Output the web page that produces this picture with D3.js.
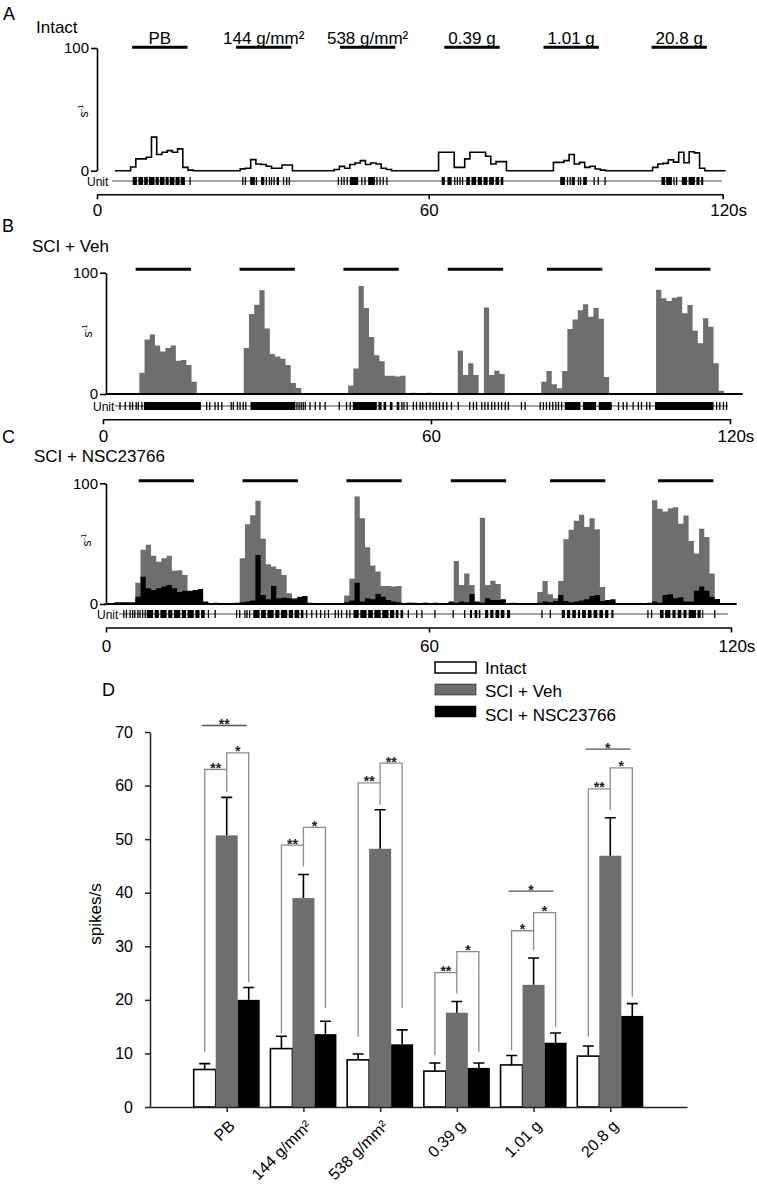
<!DOCTYPE html>
<html><head><meta charset="utf-8">
<script src="https://cdn.jsdelivr.net/npm/d3@7"></script>
<style>
body{margin:0;background:#fff;}
svg{display:block;font-family:"Liberation Sans",Arial,Helvetica,sans-serif;}
</style></head><body>
<svg id="chart" width="757" height="1199"></svg>
<script>
// ---------------- DATA ----------------
const stimLabels = ["PB","144 g/mm²","538 g/mm²","0.39 g","1.01 g","20.8 g"];
const stimOnsets = [5.3,25.2,45.1,65.1,84.1,104.8];   // s
const stimDuration = 10.6;                            // s
const timeTicks = [0,60,120];

// firing-rate histograms, 1-s bins: [first bin, values (s^-1)]
const intactHist = [
  [5,[3,9.6,9.6,11,27.4,13.2,15,16.4,15,17.8,2.7,0.5]],
  [26,[1.5,2,9,5.5,5,3.6,2,2,4.7,4.7]],
  [44,[1,3.5,2,5,6.3,8.2,5,6.3,5.5,2,1]],
  [64,[15,15,15,2.7,2.7,9.6,15,15,15,11.8,5.5,7.4,7.4]],
  [86,[6.8,6.8,8.2,13.2,5.5,6.8,2.7,3.6,1.4,0.5]],
  [105,[2.7,5.5,6,8.8,7,15,6.5,15.5,14.5,2]]
];
const vehHist = [
  [6,[17.6,45,49,40,35,38,40,27.5,28,24,10]],
  [26,[38,66,73.5,85.5,54,33,31,29,24,9,5]],
  [46,[7,21,89,71,47,32,27,15,15,14.5,15,0,1,0.5,0,1]],
  [65,[0.5,0,35.7,15.7,25.3,15.7,0,71.4,15.7,19.2,16.5]],
  [82,[0.5,10,19,8,4.7,19,53.6,61.5,69,74,63.7,71,62,14]],
  [105,[86,79,76.6,79.4,80.2,66.5,73.4,52.2,41.8,62.4,55.5,25.3,2.7]]
];
const nscHist = [
  [0,[0.5,0.5,1.4,1.4,1.4,1.4,6,22.6,13,11.6,13,14.4,15.7,13,10,11,11,11.6,12.4,2,0.5,1,0.5,0.5]],
  [24,[0.5,1,1.5,2,3,40.6,7.5,3.9,14.9,4.7,5.2,4.7,3.9,6,6.6,1,0.5,0.5,0.5,0.5]],
  [44,[0.5,0.5,1.4,2.8,17.7,2,4.7,4,8.3,6,3.3,2,1.4,0.5,1,1,0,1,0,1,0,0,2,1,2,1.4,8.3,2,1,4.7,3.3,3.3,3.9,0,1]],
  [82,[0.5,1,2,1.4,2.5,7.5,2.5,1.4,2,2.8,3.9,6.6,7.5,2.5,3.3,3.9]],
  [104,[1,2,1,7.5,8,4.7,5.5,2,2,11,14.4,11,6,4.1]]
];

// unit rasters (s): isolated spikes and dense bursts [start,end]
const intactSpikes = [16.4,26.5,27.0,29.1,31.0,31.6,32.0,32.5,33.1,33.3,34.3,34.9,35.4,44.8,45.4,45.9,46.5,49.3,49.9,52.2,52.8,53.4,54.1,67.1,67.6,68.1,68.6,88.7,89.2,90.8,91.2,93.8,94.6,95.9,109.1,109.6];
const intactBursts = [[5.4,6.2],[6.5,7.4],[7.6,8.3],[8.5,9.6],[9.8,10.4],[10.6,11.5],[11.7,12.3],[12.5,13.4],[13.6,14.4],[14.6,15.4],[27.9,28.8],[30.0,30.6],[47.0,48.6],[50.5,51.8],[64.6,65.2],[65.7,66.5],[69.3,70.0],[70.3,71.2],[71.5,72.3],[72.6,73.4],[73.7,74.6],[74.9,75.6],[75.9,76.4],[87.3,88.2],[89.5,90.1],[91.7,92.4],[106.7,107.4],[107.6,108.7],[110.6,111.6],[111.9,113.1],[113.4,114.0],[114.3,114.7]];
const vehSpikes = [2.3,3.3,4.2,4.7,5.4,5.8,6.5,18.9,19.5,20.5,21.1,21.8,23.6,24.0,24.8,25.3,25.9,26.4,36.2,36.6,37.0,37.4,37.8,38.7,39.7,40.6,41.6,44.3,45.7,46.4,56.3,56.7,57.3,58.5,59.1,59.8,60.3,61.0,61.7,62.3,62.9,63.5,64.2,64.9,65.8,67.1,69.3,70.0,70.6,71.6,72.2,72.8,73.5,74.1,74.8,75.4,76.1,76.7,79.2,79.9,82.8,83.4,84.0,84.6,85.2,85.8,86.3,86.9,97.8,98.7,99.4,100.6,101.6,102.2,103.2,103.8,116.6,117.2,117.9,118.5];
const vehBursts = [[6.9,17.8],[27.3,35.9],[46.9,51.5],[51.8,52.4],[52.8,53.3],[54.0,54.5],[55.3,55.8],[87.5,90.5],[91.0,93.5],[94.0,96.5],[104.8,116.0]];
const nscSpikes = [3.8,4.3,5.0,5.5,5.9,6.5,6.9,7.4,7.9,20.0,21.3,25.4,26.0,27.0,27.4,27.9,38.8,39.8,40.7,41.5,42.3,43.0,44.3,44.9,45.5,46.5,47.1,58.3,59.9,60.9,63.4,66.9,69.1,83.9,85.5,104.2,104.9,117.0];
const nscBursts = [[8.2,9.4],[9.7,10.5],[10.8,12.0],[12.3,13.1],[13.4,14.6],[14.9,15.7],[16.0,17.2],[17.5,18.3],[18.6,19.3],[28.6,29.8],[30.1,31.0],[31.3,32.5],[32.8,33.6],[33.9,35.1],[35.4,36.2],[36.5,37.4],[37.7,38.2],[47.8,48.8],[49.1,50.3],[50.6,51.5],[51.8,53.0],[53.3,54.5],[54.8,55.6],[55.9,56.4],[56.8,57.3],[70.1,70.5],[71.0,71.5],[71.8,72.1],[73.0,73.6],[74.0,74.6],[75.0,75.7],[76.0,76.7],[77.2,77.8],[87.7,88.3],[88.7,89.3],[89.7,90.4],[90.8,91.2],[91.6,92.3],[92.7,93.4],[93.8,94.5],[94.9,95.6],[96.0,96.6],[97.2,97.6],[106.5,107.2],[107.5,108.5],[108.9,109.5],[109.9,110.6],[111.0,111.6],[112.0,113.4],[113.7,114.3],[114.6,114.8]];

// panel D: mean ± SEM spikes/s
const doseLabels = ["PB","144 g/mm²","538 g/mm²","0.39 g","1.01 g","20.8 g"];
const groupNames = ["Intact","SCI + Veh","SCI + NSC23766"];
const intactMean = [7.0,10.9,8.8,6.7,7.85,9.5];
const intactSem  = [1.1,2.3,1.1,1.5,1.75,1.9];
const vehMean    = [50.7,39.0,48.2,17.6,22.8,46.9];
const vehSem     = [7.1,4.4,7.3,2.1,5.0,7.1];
const nscMean    = [20.0,13.6,11.7,7.3,12.0,17.0];
const nscSem     = [2.3,2.4,2.7,0.9,1.8,2.3];
const yTicksD    = [0,10,20,30,40,50,60,70];
// brackets: [dose, from group, to group, level, from-leg end, to-leg end, label]
const brackets = [
  [0,0,1,63,10.3,58.8,"**"],[0,1,2,66.1,63,23.3,"*"],
  [1,0,1,48.9,13.8,44.9,"**"],[1,1,2,52.2,48.9,18.5,"*"],
  [2,0,1,60.5,13.1,56.4,"**"],[2,1,2,64.2,60.5,18.5,"**"],
  [3,0,1,25.1,9.7,21.2,"**"],[3,1,2,29,25.1,10.3,"*"],
  [4,0,1,32.9,10.6,29.3,"*"],[4,1,2,36.3,32.9,15,"*"],
  [5,0,1,59.4,13.1,55.4,"**"],[5,1,2,63.3,59.4,20.6,"*"]
];
// overall comparison lines: [dose, level, label]
const spanLines = [[0,71.2,"**"],[4,40.3,"*"],[5,66.8,"*"]];

// ---------------- DRAW ----------------
const svg = d3.select("#chart");
const BIN_W = 5.22;
const GRAY = "#6e6e6e";

function toBins(groups){
  const arr = new Array(122).fill(0);
  groups.forEach(([s,vals]) => vals.forEach((v,k) => arr[s+k] = v));
  return arr;
}

const panels = [
  {id:"A", letterX:3, letterY:20, title:"Intact", titleX:36, titleY:33,
   axisX:97, y0:170.7, y100:48, histX0:104.5, stimX0:104.5, stimY:47.3,
   baseX0:115, baseX1:725, rasterY:181, unitX:87, lineX0:112, lineX1:722,
   timeY:194.3, timeRange:[97,428.7,722.7], timePad:5, sLab:[88,111],
   outline:intactHist, spikes:intactSpikes, bursts:intactBursts, labels:true},
  {id:"B", letterX:2, letterY:232, title:"SCI + Veh", titleX:32, titleY:252,
   axisX:106, y0:394, y100:272.7, histX0:108, stimX0:108, stimY:269.3,
   baseX0:106, baseX1:742.7, rasterY:406, unitX:93, lineX0:115, lineX1:728,
   timeY:419.3, timeRange:[103,431,730], timePad:6, sLab:[92,331],
   gray:vehHist, spikes:vehSpikes, bursts:vehBursts},
  {id:"C", letterX:2, letterY:443, title:"SCI + NSC23766", titleX:34, titleY:462,
   axisX:106, y0:604, y100:483.3, histX0:104, stimX0:111, stimY:480.7,
   baseX0:106, baseX1:736.7, rasterY:614, unitX:97, lineX0:119, lineX1:728,
   timeY:627.5, timePad:7, timeRange:[106,429,731], sLab:[91,540],
   gray:vehHist, black:nscHist, spikes:nscSpikes, bursts:nscBursts}
];

panels.forEach(p => {
  const g = svg.append("g");
  const hx = d3.scaleLinear().domain([0,120]).range([p.histX0, p.histX0 + 120*BIN_W]);
  const sx = d3.scaleLinear().domain([0,120]).range([p.stimX0, p.stimX0 + 120*BIN_W]);
  const hy = d3.scaleLinear().domain([0,100]).range([p.y0, p.y100]);
  const tx = d3.scaleLinear().domain(timeTicks).range(p.timeRange);

  g.append("text").attr("x",p.letterX).attr("y",p.letterY).attr("font-size",18).text(p.id);
  g.append("text").attr("x",p.titleX).attr("y",p.titleY).attr("font-size",17).text(p.title);

  // stimulus bars
  stimOnsets.forEach((t,i) => {
    g.append("line").attr("x1",sx(t)).attr("x2",sx(t+stimDuration))
      .attr("y1",p.stimY).attr("y2",p.stimY).attr("stroke","#000").attr("stroke-width",3);
    if (p.labels) {
      g.append("text").attr("x",(sx(t)+sx(t+stimDuration))/2).attr("y",p.stimY-3.5)
        .attr("text-anchor","middle").attr("font-size",17).text(stimLabels[i]);
    }
  });

  // histograms
  const areaGen = d3.area().curve(d3.curveStepAfter)
      .x(d => hx(d[0])).y0(hy(0)).y1(d => hy(d[1]));
  const groupPts = ([s,vals]) => vals.map((v,k) => [s+k,v]).concat([[s+vals.length,0]]);
  if (p.gray) p.gray.forEach(gr => g.append("path").attr("d",areaGen(groupPts(gr))).attr("fill",GRAY));
  if (p.black) p.black.forEach(gr => g.append("path").attr("d",areaGen(groupPts(gr))).attr("fill","#000"));
  if (p.outline) {
    const arr = toBins(p.outline);
    const pts = d3.range(2,120).map(i => [i, arr[i]]);
    g.append("path").attr("d", d3.line().curve(d3.curveStepAfter).x(d=>hx(d[0])).y(d=>hy(d[1]))(pts))
      .attr("fill","none").attr("stroke","#000").attr("stroke-width",1.6);
  } else {
    g.append("line").attr("x1",p.baseX0).attr("x2",p.baseX1).attr("y1",p.y0).attr("y2",p.y0)
      .attr("stroke","#000").attr("stroke-width",1.8);
  }

  // y axis
  const ya = g.append("g").attr("transform",`translate(${p.axisX},0)`)
    .call(d3.axisLeft(hy).tickValues([0,100]).tickSize(6).tickSizeOuter(0).tickPadding(2));
  ya.selectAll("path,line").attr("stroke","#000").attr("stroke-width",1.6);
  ya.selectAll("text").attr("font-size",15).attr("font-family",null).attr("fill","#000");
  const sl = g.append("text").attr("transform",`translate(${p.sLab[0]},${p.sLab[1]}) rotate(-90)`)
    .attr("text-anchor","middle").attr("font-size",12);
  sl.append("tspan").text("s");
  sl.append("tspan").attr("dy",-5).attr("font-size",8).text("-1");

  // raster
  g.append("text").attr("x",p.unitX).attr("y",p.rasterY+5).attr("font-size",12).text("Unit");
  g.append("line").attr("x1",p.lineX0).attr("x2",p.lineX1).attr("y1",p.rasterY).attr("y2",p.rasterY)
    .attr("stroke","#333").attr("stroke-width",0.9);
  g.selectAll(null).data(p.spikes).enter().append("line")
    .attr("x1",d=>hx(d)).attr("x2",d=>hx(d)).attr("y1",p.rasterY-4).attr("y2",p.rasterY+4)
    .attr("stroke","#000").attr("stroke-width",1.3);
  g.selectAll(null).data(p.bursts).enter().append("rect")
    .attr("x",d=>hx(d[0])).attr("width",d=>hx(d[1])-hx(d[0]))
    .attr("y",p.rasterY-4).attr("height",8).attr("fill","#000");

  // time axis
  const ta = g.append("g").attr("transform",`translate(0,${p.timeY})`)
    .call(d3.axisBottom(tx).tickValues(timeTicks).tickSize(5).tickSizeOuter(0).tickPadding(p.timePad)
      .tickFormat(d => d===120 ? "120s" : d));
  ta.selectAll("path,line").attr("stroke","#000").attr("stroke-width",1.6);
  ta.selectAll("text").attr("font-size",17).attr("font-family",null).attr("fill","#000");
  ta.selectAll(".tick").filter(d => d===120).select("text").attr("text-anchor","start").attr("x",-13);
});

// ---------------- PANEL D ----------------
const gD = svg.append("g");
const xD = d3.scalePoint().domain(doseLabels).range([150,687]).padding(1);
const xS = d3.scaleBand().domain(groupNames).range([-33,33]);
const yD = d3.scaleLinear().domain([0,70]).range([1107,732]);
const series = [
  {name:groupNames[0], mean:intactMean, sem:intactSem, fill:"#fff"},
  {name:groupNames[1], mean:vehMean, sem:vehSem, fill:GRAY},
  {name:groupNames[2], mean:nscMean, sem:nscSem, fill:"#000"}
];
const cx = (di,gi) => xD(doseLabels[di]) + xS(groupNames[gi]) + xS.bandwidth()/2;

gD.append("text").attr("x",102).attr("y",696).attr("font-size",18).text("D");

// legend
series.forEach((s,i) => {
  gD.append("rect").attr("x",435).attr("y",662+i*22).attr("width",41).attr("height",11)
    .attr("fill",s.fill).attr("stroke","#000").attr("stroke-width",i===0?1.5:0.5);
  gD.append("text").attr("x",485).attr("y",673.5+i*23.5).attr("font-size",17).text(s.name);
});

// significance brackets (behind bars)
const BR = "#8c8c8c";
brackets.forEach(([di,a,b,lev,ea,eb,lab]) => {
  const xa = cx(di,a), xb = cx(di,b);
  gD.append("path").attr("d",`M${xa},${yD(ea)}V${yD(lev)}H${xb}V${yD(eb)}`)
    .attr("fill","none").attr("stroke",BR).attr("stroke-width",1.3);
  gD.append("text").attr("x",(xa+xb)/2).attr("y",yD(lev)+3.5).attr("text-anchor","middle")
    .attr("font-size",14).attr("font-weight","bold").attr("fill","#222").text(lab);
});
spanLines.forEach(([di,lev,lab]) => {
  const xa = cx(di,0)-3, xb = cx(di,2)-2;
  gD.append("line").attr("x1",xa).attr("x2",xb).attr("y1",yD(lev)).attr("y2",yD(lev))
    .attr("stroke","#555").attr("stroke-width",1.4);
  gD.append("text").attr("x",(xa+xb)/2).attr("y",yD(lev)+3.5).attr("text-anchor","middle")
    .attr("font-size",14).attr("font-weight","bold").attr("fill","#222").text(lab);
});

// bars + error bars
series.forEach((s,gi) => {
  doseLabels.forEach((d,di) => {
    const x0 = xD(d) + xS(s.name);
    gD.append("rect").attr("x",x0).attr("width",xS.bandwidth())
      .attr("y",yD(s.mean[di])).attr("height",yD(0)-yD(s.mean[di]))
      .attr("fill",s.fill).attr("stroke",gi===0?"#000":"none").attr("stroke-width",1.6);
    const c = cx(di,gi), top = yD(s.mean[di]+s.sem[di]);
    gD.append("path").attr("d",`M${c},${yD(s.mean[di])}V${top}M${c-5.5},${top}H${c+5.5}`)
      .attr("stroke","#000").attr("stroke-width",1.6).attr("fill","none");
  });
});

// axes
const yAx = gD.append("g").attr("transform","translate(150,0)")
  .call(d3.axisLeft(yD).tickValues(yTicksD).tickSize(5).tickSizeOuter(0).tickPadding(12));
yAx.selectAll("path,line").attr("stroke","#222").attr("stroke-width",1.5);
yAx.selectAll("text").attr("font-size",16).attr("font-family",null).attr("fill","#000");
const xAx = gD.append("g").attr("transform","translate(0,1107)")
  .call(d3.axisBottom(xD).tickSize(5).tickSizeOuter(0).tickFormat(""));
xAx.selectAll("path,line").attr("stroke","#222").attr("stroke-width",1.5);
gD.selectAll("text.dose").data(doseLabels).enter().append("text").attr("class","dose")
  .attr("transform", d => `translate(${xD(d)+9},1127) rotate(-45)`)
  .attr("text-anchor","end").attr("font-size",16).text(d => d);
gD.append("text").attr("transform","translate(101,914) rotate(-90)").attr("text-anchor","middle")
  .attr("font-size",17).text("spikes/s");
</script>
</body></html>
